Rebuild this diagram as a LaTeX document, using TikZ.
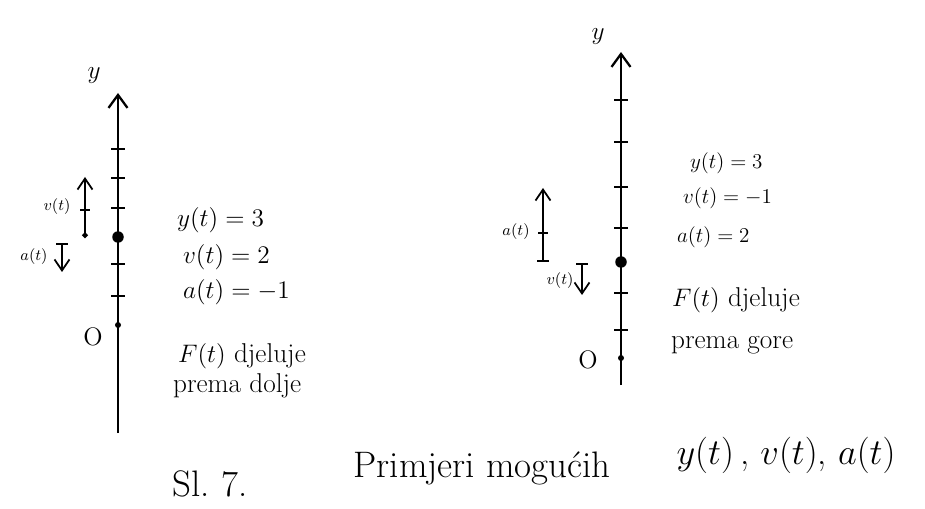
\documentclass[tikz,border=0pt]{standalone}
\usepackage{amsmath}
\usepackage{tikz}
\usetikzlibrary{positioning,arrows.meta}

\begin{document}
\begin{tikzpicture}[
        x=0.02cm, y=-0.02cm,
        node distance=4pt and 6pt,
        >={Straight Barb[length=2.2mm,width=3mm]},
        yaxis/.style={
                ->, line width=1.3pt,
                >={Straight Barb[length=2.6mm,width=3.8mm]}
            },
        tickmark/.style={line width=1pt},
        vecdot/.style={arrows={Circle[length=1.1mm]->}, line width=1pt},
        vecbar/.style={arrows={Bar[width=2.4mm]->}, line width=1pt},
        dotnode/.style={circle, fill, inner sep=0pt, minimum size=2.3mm},
        odot/.style={circle, fill, inner sep=0pt, minimum size=1.2mm},
        val/.style={anchor=west, inner sep=1pt, font=\fontsize{15.5}{18}\selectfont},
        valsm/.style={val, font=\fontsize{13}{15}\selectfont},
        veclabel/.style={inner sep=1pt, font=\small},
        axlabel/.style={inner sep=1pt, font=\Large},
        captext/.style={inner sep=1pt, font=\fontsize{21}{25}\selectfont}
    ]

    \useasboundingbox (0,0) rectangle (925,509);

    % ===== Left example: F(t) points down =====
    \coordinate (botA) at (118,433);
    \coordinate (topA) at (118,93);
    \draw[yaxis] (botA) -- (topA);
    \foreach \t in {149,178,208,264,296}
    \draw[tickmark] (111,\t) -- (125,\t);
    \node[dotnode] (posA) at (118,237) {};
    \node[odot] (oA) at (118,325) {};
    \node[axlabel] (ylabA) at (94,76) {$y$};
    \node[axlabel] (olabA) at (93,337) {O};

    % vectors beside the point
    \coordinate (vsA) at (85,238);
    \coordinate (veA) at (85,177);
    \draw[vecdot] (vsA) -- (veA);
    \draw[tickmark] (80,210) -- (90,210);
    \node[veclabel] (vlabA) at (57,207) {$v(t)$};
    \coordinate (asA) at (62,243);
    \coordinate (aeA) at (62,272);
    \draw[vecbar] (asA) -- (aeA);
    \node[veclabel] (alabA) at (34,257) {$a(t)$};

    % values
    \node[val] (yvalA) at (175,220) {$y(t)=3$};
    \node[val] (vvalA) at (181,257) {$v(t)=2$};
    \node[val] (avalA) at (181,292) {$a(t)=-1$};
    \node[val] (fA) at (176,356) {$F(t)$ djeluje};
    \node[val] (dirA) at (171,386) {prema dolje};

    % ===== Right example: F(t) points up =====
    \coordinate (botB) at (621,385);
    \coordinate (topB) at (621,52);
    \draw[yaxis] (botB) -- (topB);
    \foreach \t in {100,142,187,228,293,330}
    \draw[tickmark] (614,\t) -- (628,\t);
    \node[dotnode] (posB) at (621,262) {};
    \node[odot] (oB) at (621,358) {};
    \node[axlabel] (ylabB) at (598,37) {$y$};
    \node[axlabel] (olabB) at (588,360) {O};

    % vectors beside the point
    \coordinate (asB) at (543,262);
    \coordinate (aeB) at (543,188);
    \draw[vecbar] (asB) -- (aeB);
    \draw[tickmark] (538,233) -- (548,233);
    \node[veclabel] (alabB) at (516,232) {$a(t)$};
    \coordinate (vsB) at (582,263);
    \coordinate (veB) at (582,295);
    \draw[vecbar] (vsB) -- (veB);
    \node[veclabel] (vlabB) at (560,281) {$v(t)$};

    % values
    \node[valsm] (yvalB) at (688,163) {$y(t)=3$};
    \node[valsm] (vvalB) at (681,198) {$v(t)=-1$};
    \node[valsm] (avalB) at (675,237) {$a(t)=2$};
    \node[val] (fB) at (670,300) {$F(t)$ djeluje};
    \node[val] (dirB) at (669,345) {prema gore};

    % ===== Caption =====
    \node[captext] (fignum) at (210,484) {Sl.~7.};
    \node[captext] (captxt) at (482,468) {Primjeri mogućih};
    \node[captext] (capfun) at (786,455) {$y(t)$\,,\ $v(t)$, $a(t)$};

\end{tikzpicture}
\end{document}
